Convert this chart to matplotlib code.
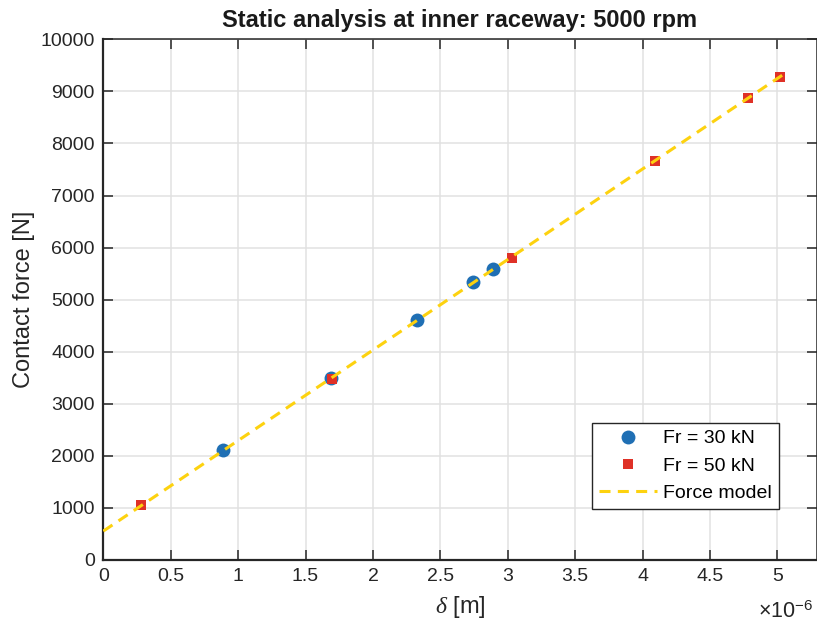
import numpy as np
import matplotlib
matplotlib.use("Agg")
import matplotlib.pyplot as plt
from matplotlib.ticker import FuncFormatter, MultipleLocator

plt.rcParams['font.family'] = ['Liberation Sans', 'DejaVu Sans']
plt.rcParams['mathtext.fontset'] = 'custom'
plt.rcParams['mathtext.rm'] = 'Liberation Sans'
plt.rcParams['mathtext.it'] = 'Liberation Serif:italic'

# Fr = 30 kN results
delta_30 = np.array([0.885, 1.69, 2.33, 2.745, 2.89]) * 1e-6
force_30 = [2105, 3500, 4615, 5335, 5585]

# Fr = 50 kN results
delta_50 = np.array([0.28, 1.70, 3.03, 4.095, 4.785, 5.02]) * 1e-6
force_50 = [1055, 3485, 5800, 7665, 8865, 9285]

# force model (straight line between end points)
delta_model = np.array([0.0, 5.05]) * 1e-6
force_model = [555, 9335]

fig = plt.figure(figsize=(8.17, 6.24), dpi=100)
ax = fig.add_axes([103.3 / 817, 64 / 624, (816.5 - 103.3) / 817, (560 - 39.3) / 624])

ax.plot(delta_30, force_30, 'o', color='#1f6fb4', markersize=10, markeredgewidth=0,
        label='Fr = 30 kN', zorder=3)
ax.plot(delta_50, force_50, 's', color='#df3127', markersize=7.4, markeredgewidth=0,
        label='Fr = 50 kN', zorder=3)
ax.plot(delta_model, force_model, color='#fdd20f', linewidth=2.2, dashes=(3.6, 2.4),
        label='Force model', zorder=4)

ax.set_xlim(0, 5.29e-6)
ax.set_ylim(0, 10000)
ax.xaxis.set_major_locator(MultipleLocator(0.5e-6))
ax.yaxis.set_major_locator(MultipleLocator(1000))
ax.xaxis.set_major_formatter(FuncFormatter(lambda v, p: '%g' % round(v * 1e6, 3)))
ax.yaxis.set_major_formatter(FuncFormatter(lambda v, p: '%d' % v))

ax.grid(True, color='#e1e1e1', linewidth=1.1)
ax.set_axisbelow(True)
ax.tick_params(direction='in', length=7, width=1.1, labelsize=14, colors='#262626',
               top=True, right=True, pad=6)
for s in ax.spines.values():
    s.set_color('#262626')
    s.set_linewidth(1.1)
ax.spines['bottom'].set_linewidth(1.6)
ax.spines['left'].set_linewidth(1.6)

ax.set_title('Static analysis at inner raceway: 5000 rpm', fontsize=17, fontweight='bold',
             color='#1a1a1a', pad=9)
ax.set_ylabel('Contact force [N]', fontsize=17, color='#262626', labelpad=4)
ax.set_xlabel(r'$\mathit{\delta}$ [m]', fontsize=17, color='#262626', labelpad=6)
ax.text(0.995, -0.1, r'$\times$10$^{-6}$', transform=ax.transAxes, ha='right', va='center',
        fontsize=15.5, color='#262626')

leg = ax.legend(loc='lower right', bbox_to_anchor=(0.947, 0.098), borderaxespad=0,
                fontsize=14, handlelength=3.0, labelspacing=0.5, fancybox=False,
                framealpha=1, edgecolor='#262626', borderpad=0.35, handletextpad=0.3)
leg.get_frame().set_linewidth(1.0)

fig.savefig('out.png', dpi=100)
